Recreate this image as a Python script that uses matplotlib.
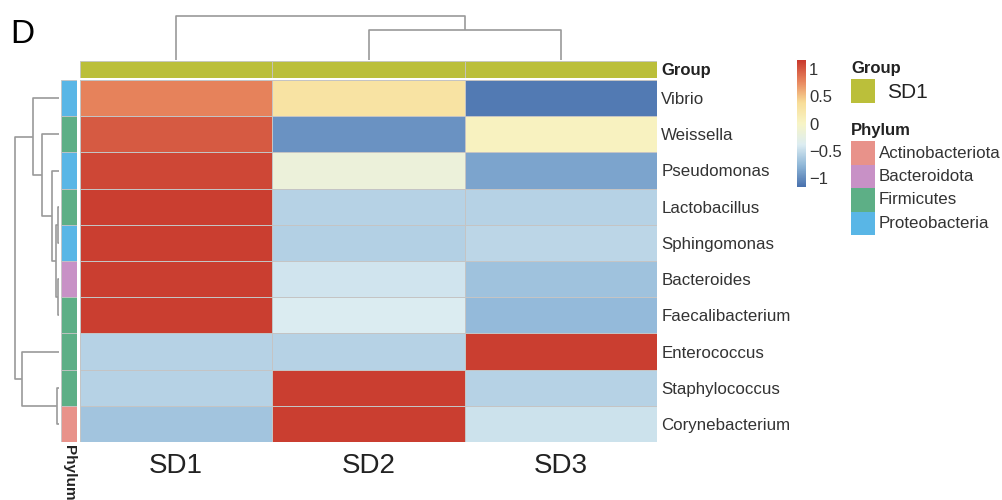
import numpy as np
import matplotlib
matplotlib.use("Agg")
import matplotlib.pyplot as plt
from matplotlib.colors import LinearSegmentedColormap, Normalize
from matplotlib.patches import Rectangle

plt.rcParams['font.family'] = ['Liberation Sans', 'DejaVu Sans']

# genera (rows, top to bottom) and samples (columns)
genera = ["Vibrio", "Weissella", "Pseudomonas", "Lactobacillus", "Sphingomonas",
          "Bacteroides", "Faecalibacterium", "Enterococcus", "Staphylococcus",
          "Corynebacterium"]
samples = ["SD1", "SD2", "SD3"]

# row-scaled abundance (z-score) per sample
sd1 = [0.80, 1.00, 1.10, 1.15, 1.15, 1.15, 1.15, -0.58, -0.58, -0.68]
sd2 = [0.30, -0.98, -0.18, -0.58, -0.60, -0.45, -0.40, -0.58, 1.15, 1.15]
sd3 = [-1.12, 0.05, -0.88, -0.58, -0.55, -0.70, -0.75, 1.15, -0.58, -0.47]

phylum = ["Proteobacteria", "Firmicutes", "Proteobacteria", "Firmicutes",
          "Proteobacteria", "Bacteroidota", "Firmicutes", "Firmicutes",
          "Firmicutes", "Actinobacteriota"]
phylum_names = ["Actinobacteriota", "Bacteroidota", "Firmicutes", "Proteobacteria"]
phylum_colors = ["#E8928A", "#C891C6", "#5DAF86", "#59B6E6"]
group = ["SD1", "SD1", "SD1"]
group_color = "#BBBF3A"

# dendrograms: (left node, right node, height); leaves are 0..n-1, merges n, n+1, ...
row_merges = [(8, 9, 0.045), (3, 4, 0.03), (5, 6, 0.025), (11, 12, 0.06),
              (2, 13, 0.16), (1, 14, 0.38), (0, 15, 0.60), (7, 10, 0.85),
              (16, 17, 1.00)]
col_merges = [(1, 2, 0.69), (0, 3, 1.00)]

W, H = 1003, 500
fig = plt.figure(figsize=(W / 100, H / 100), dpi=100)

def box(x0, y0, x1, y1):
    return [x0 / W, 1 - y1 / H, (x1 - x0) / W, (y1 - y0) / H]

cmap = LinearSegmentedColormap.from_list(
    "rdylbu", ["#4A72AE", "#8FB7D8", "#DDEDF2", "#F8F5C6", "#F8DD98", "#E8865E", "#C93A2E"])
norm = Normalize(-1.17, 1.17)
edge = "#c4c4c4"

# main heatmap
ax = fig.add_axes(box(80, 80, 657, 442))
vals = np.array([sd1, sd2, sd3]).T
ax.pcolormesh(vals, cmap=cmap, norm=norm, edgecolors=edge, linewidth=0.6)
ax.set_xlim(0, len(samples))
ax.set_ylim(len(genera), 0)
ax.set_xticks(np.arange(len(samples)) + 0.5)
ax.set_xticklabels(samples, fontsize=20, color="#222222")
ax.set_yticks(np.arange(len(genera)) + 0.5)
ax.set_yticklabels(genera, fontsize=12.2, color="#333333")
ax.yaxis.tick_right()
ax.tick_params(length=0, axis="y", pad=3)
ax.tick_params(length=0, axis="x", pad=8)
for s in ax.spines.values():
    s.set_visible(False)

# group annotation bar
axg = fig.add_axes(box(80, 61, 657, 78))
for i, g in enumerate(group):
    axg.add_patch(Rectangle((i, 0), 1, 1, facecolor=group_color, edgecolor=edge, lw=0.6))
axg.set_xlim(0, len(group))
axg.set_ylim(0, 1)
axg.set_xticks([])
axg.set_yticks([0.5])
axg.set_yticklabels(["Group"], fontsize=12, fontweight="bold", color="#222222")
axg.yaxis.tick_right()
axg.tick_params(length=0, pad=3)
for s in axg.spines.values():
    s.set_visible(False)

# phylum annotation bar
axp = fig.add_axes(box(61, 80, 77, 442))
for i, p in enumerate(phylum):
    axp.add_patch(Rectangle((0, i), 1, 1, facecolor=phylum_colors[phylum_names.index(p)],
                            edgecolor=edge, lw=0.6))
axp.set_xlim(0, 1)
axp.set_ylim(len(phylum), 0)
axp.set_xticks([0.5])
axp.set_xticklabels(["Phylum"], rotation=270, fontsize=11, fontweight="bold", color="#222222")
axp.set_yticks([])
axp.tick_params(length=0, pad=2)
for s in axp.spines.values():
    s.set_visible(False)


def dendro(axd, merges, n, horizontal):
    pos = {i: i + 0.5 for i in range(n)}
    hgt = {i: 0.0 for i in range(n)}
    for k, (a, b, h) in enumerate(merges):
        xs = [pos[a], pos[a], pos[b], pos[b]]
        ys = [hgt[a], h, h, hgt[b]]
        if horizontal:
            axd.plot(ys, xs, color="#9a9a9a", lw=1.2, solid_capstyle="butt")
        else:
            axd.plot(xs, ys, color="#9a9a9a", lw=1.2, solid_capstyle="butt")
        pos[n + k] = (pos[a] + pos[b]) / 2
        hgt[n + k] = h
    axd.axis("off")


# row dendrogram (root at x=15, leaves at x=59)
axr = fig.add_axes(box(0, 80, 59, 442))
dendro(axr, row_merges, len(genera), True)
axr.set_xlim(59 / 44, 0)
axr.set_ylim(len(genera), 0)

# column dendrogram (root at y=16, leaves at y=60)
axc = fig.add_axes(box(80, 0, 657, 60))
dendro(axc, col_merges, len(samples), False)
axc.set_ylim(0, 60 / 44)
axc.set_xlim(0, len(samples))

# colour bar
axcb = fig.add_axes(box(797, 60, 805, 187))
grad = np.linspace(-1.17, 1.17, 200).reshape(-1, 1)
axcb.imshow(grad, cmap=cmap, norm=norm, aspect="auto", origin="lower",
            extent=[0, 1, -1.17, 1.17])
axcb.set_xticks([])
axcb.yaxis.tick_right()
axcb.set_yticks([-1, -0.5, 0, 0.5, 1])
axcb.set_yticklabels(["\u22121", "\u22120.5", "0", "0.5", "1"], fontsize=12, color="#333333")
axcb.tick_params(length=0, pad=3)
for s in axcb.spines.values():
    s.set_visible(False)

# annotation legends
axl = fig.add_axes(box(840, 50, 1003, 250))
axl.set_xlim(840, 1003)
axl.set_ylim(250, 50)
axl.axis("off")
axl.text(851, 68, "Group", fontsize=12, fontweight="bold", va="center", color="#222222")
axl.add_patch(Rectangle((851, 79), 24, 24, facecolor=group_color, edgecolor="none"))
axl.text(887, 92, group[0], fontsize=15, va="center", color="#222222")
axl.text(851, 130, "Phylum", fontsize=12, fontweight="bold", va="center", color="#222222")
for i, (nm, c) in enumerate(zip(phylum_names, phylum_colors)):
    y0 = 141 + i * 23.5
    axl.add_patch(Rectangle((851, y0), 24, 23.5, facecolor=c, edgecolor="none"))
    axl.text(879, y0 + 12, nm, fontsize=12.2, va="center", color="#333333")

fig.text(10 / W, 1 - 34 / H, "D", fontsize=24, va="center", ha="left")

fig.savefig("out.png", dpi=100)
